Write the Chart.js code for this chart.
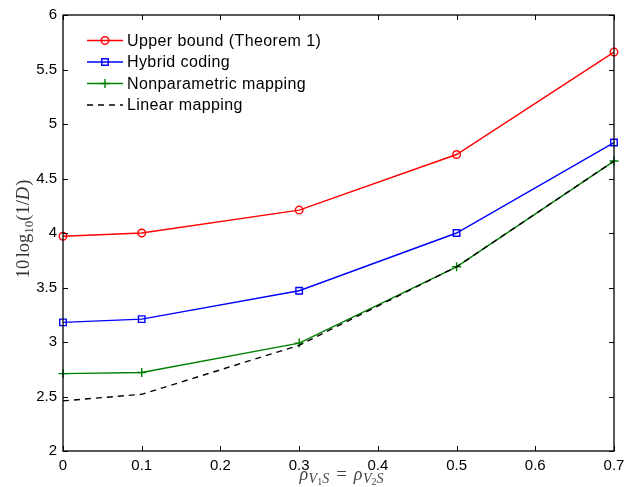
<!DOCTYPE html>
<html>
<head>
<meta charset="utf-8">
<script src="https://cdn.jsdelivr.net/npm/chart.js@4.4.1/dist/chart.umd.min.js"></script>
<style>
html,body{margin:0;padding:0;background:#fff;}
#wrap{width:637px;height:487px;}
</style>
</head>
<body>
<div id="wrap"><canvas id="c" width="637" height="487"></canvas></div>
<script>
// ---- data ----
const rho = [0, 0.1, 0.3, 0.5, 0.7];
const upperBound = [3.97, 4.00, 4.21, 4.72, 5.66];
const hybridCoding = [3.18, 3.21, 3.47, 4.00, 4.83];
const nonparametric = [2.71, 2.72, 2.99, 3.69, 4.66];
const linearMapping = [2.46, 2.52, 2.97, 3.69, 4.66];
const seriesNames = ['Upper bound (Theorem 1)', 'Hybrid coding', 'Nonparametric mapping', 'Linear mapping'];
const xTicks = [0, 0.1, 0.2, 0.3, 0.4, 0.5, 0.6, 0.7];
const xTickLabels = ['0', '0.1', '0.2', '0.3', '0.4', '0.5', '0.6', '0.7'];
const yTicks = [2, 2.5, 3, 3.5, 4, 4.5, 5, 5.5, 6];
const yTickLabels = ['2', '2.5', '3', '3.5', '4', '4.5', '5', '5.5', '6'];

const pts = arr => rho.map((x, i) => ({x: x, y: arr[i]}));

const styles = [
  {color: '#ff0000', point: 'circle', radius: 3.8, dash: []},
  {color: '#0000ff', point: 'rect', radius: 4.6, dash: []},
  {color: '#008000', point: 'cross', radius: 4.5, dash: []},
  {color: '#000000', point: false, radius: 0, dash: [6, 5]}
];
const seriesData = [upperBound, hybridCoding, nonparametric, linearMapping];

const datasets = seriesData.map((arr, i) => ({
  label: seriesNames[i],
  data: pts(arr),
  showLine: true,
  clip: false,
  borderColor: styles[i].color,
  borderWidth: 1.4,
  borderDash: styles[i].dash,
  pointStyle: styles[i].point || 'circle',
  pointRadius: styles[i].radius,
  pointHoverRadius: styles[i].radius,
  pointBorderColor: styles[i].color,
  pointBackgroundColor: 'rgba(0,0,0,0)',
  pointBorderWidth: 1.4,
  tension: 0,
  order: i === 3 ? 0 : 4 - i
}));

function drawMarker(ctx, style, x, y, r, color) {
  ctx.save();
  ctx.strokeStyle = color; ctx.lineWidth = 1.4; ctx.setLineDash([]);
  ctx.beginPath();
  if (style === 'circle') { ctx.arc(x, y, r, 0, Math.PI * 2); }
  else if (style === 'rect') { const s = r / Math.SQRT2; ctx.rect(x - s, y - s, 2 * s, 2 * s); }
  else if (style === 'cross') { ctx.moveTo(x - r, y); ctx.lineTo(x + r, y); ctx.moveTo(x, y - r); ctx.lineTo(x, y + r); }
  ctx.stroke();
  ctx.restore();
}

function drawRich(ctx, parts, startX, baseY) {
  let x = startX;
  parts.forEach(p => {
    x += (p.pre || 0);
    ctx.font = p.f;
    ctx.fillText(p.t, x, baseY + p.dy);
    x += ctx.measureText(p.t).width + (p.post || 0);
  });
}
function richWidth(ctx, parts) {
  let w = 0;
  parts.forEach(p => { ctx.font = p.f; w += ctx.measureText(p.t).width + (p.pre || 0) + (p.post || 0); });
  return w;
}

const framePlugin = {
  id: 'frame',
  afterDraw(chart) {
    const ctx = chart.ctx, a = chart.chartArea;
    const xs = chart.scales.x, ys = chart.scales.y;
    ctx.save();
    ctx.strokeStyle = '#000'; ctx.lineWidth = 1.3; ctx.setLineDash([]);
    ctx.strokeRect(a.left, a.top, a.right - a.left, a.bottom - a.top);
    ctx.lineWidth = 1;
    const tl = 5;
    ctx.beginPath();
    xTicks.forEach(v => {
      const px = Math.round(xs.getPixelForValue(v)) + 0.5;
      ctx.moveTo(px, a.bottom); ctx.lineTo(px, a.bottom - tl);
      ctx.moveTo(px, a.top); ctx.lineTo(px, a.top + tl);
    });
    yTicks.forEach(v => {
      const py = Math.round(ys.getPixelForValue(v)) + 0.5;
      ctx.moveTo(a.left, py); ctx.lineTo(a.left + tl, py);
      ctx.moveTo(a.right, py); ctx.lineTo(a.right - tl, py);
    });
    ctx.stroke();

    // legend
    const lx0 = 87, lx1 = 123, tx = 127, rowY = [40.5, 62, 83.5, 105];
    ctx.font = '16px "Liberation Sans", Arial, sans-serif';
    try { ctx.letterSpacing = '0.4px'; } catch (e) {}
    ctx.textBaseline = 'middle'; ctx.textAlign = 'left';
    seriesNames.forEach((name, i) => {
      const y = rowY[i], st = styles[i];
      ctx.save();
      ctx.strokeStyle = st.color; ctx.lineWidth = 1.4; ctx.setLineDash(st.dash);
      ctx.beginPath(); ctx.moveTo(lx0, y); ctx.lineTo(lx1, y); ctx.stroke();
      ctx.restore();
      if (st.point) drawMarker(ctx, st.point, (lx0 + lx1) / 2, y, st.radius, st.color);
      ctx.fillStyle = '#000';
      ctx.fillText(name, tx, y + 1);
    });
    try { ctx.letterSpacing = '0px'; } catch (e) {}

    // y-axis title: 10 log10(1/D)
    const serif = '"Liberation Serif", "DejaVu Serif", serif';
    ctx.save();
    ctx.translate(29, 229);
    ctx.rotate(-Math.PI / 2);
    ctx.fillStyle = '#333';
    ctx.textBaseline = 'alphabetic';
    const parts = [
      {t: '10', f: '18.5px ' + serif, dy: 0, post: 2.5},
      {t: 'log', f: '18.5px ' + serif, dy: 0},
      {t: '10', f: '13px ' + serif, dy: 4},
      {t: '(1/', f: '18.5px ' + serif, dy: 0},
      {t: 'D', f: 'italic 18.5px ' + serif, dy: 0, post: 1},
      {t: ')', f: '18.5px ' + serif, dy: 0}
    ];
    drawRich(ctx, parts, -richWidth(ctx, parts) / 2, 0);
    ctx.restore();

    // x-axis title: rho_{V1S} = rho_{V2S}
    ctx.save();
    ctx.fillStyle = '#444';
    ctx.textBaseline = 'alphabetic';
    const xparts = [
      {t: 'ρ', f: 'italic 18px ' + serif, dy: 0, post: 0.5},
      {t: 'V', f: 'italic 14px ' + serif, dy: 3},
      {t: '1', f: '10px ' + serif, dy: 5},
      {t: 'S', f: 'italic 14px ' + serif, dy: 3},
      {t: '=', f: '19px ' + serif, dy: 0, pre: 7, post: 7},
      {t: 'ρ', f: 'italic 18px ' + serif, dy: 0, post: 0.5},
      {t: 'V', f: 'italic 14px ' + serif, dy: 3},
      {t: '2', f: '10px ' + serif, dy: 5},
      {t: 'S', f: 'italic 14px ' + serif, dy: 3}
    ];
    drawRich(ctx, xparts, (a.left + a.right) / 2 + 3 - richWidth(ctx, xparts) / 2, 480);
    ctx.restore();
    ctx.restore();
  }
};

new Chart(document.getElementById('c'), {
  type: 'scatter',
  data: {datasets: datasets},
  options: {
    responsive: false,
    animation: false,
    devicePixelRatio: 1,
    layout: {padding: {top: 14, right: 23, left: 0, bottom: 0}},
    plugins: {legend: {display: false}, tooltip: {enabled: false}},
    scales: {
      x: {
        type: 'linear', min: 0, max: 0.7,
        grid: {display: false, drawTicks: false},
        border: {display: false},
        afterBuildTicks: s => { s.ticks = xTicks.map(v => ({value: v})); },
        afterFit: s => { s.height = 36; },
        ticks: {
          padding: 6, color: '#000', maxRotation: 0, autoSkip: false,
          font: {family: '"Liberation Sans", Arial, sans-serif', size: 15},
          callback: (v, i) => xTickLabels[i]
        }
      },
      y: {
        type: 'linear', min: 2, max: 6,
        grid: {display: false, drawTicks: false},
        border: {display: false},
        afterBuildTicks: s => { s.ticks = yTicks.map(v => ({value: v})); },
        afterFit: s => { s.width = 63; },
        ticks: {
          padding: 6, color: '#000', autoSkip: false,
          font: {family: '"Liberation Sans", Arial, sans-serif', size: 15},
          callback: (v, i) => yTickLabels[i]
        }
      }
    }
  },
  plugins: [framePlugin]
});
</script>
</body>
</html>
